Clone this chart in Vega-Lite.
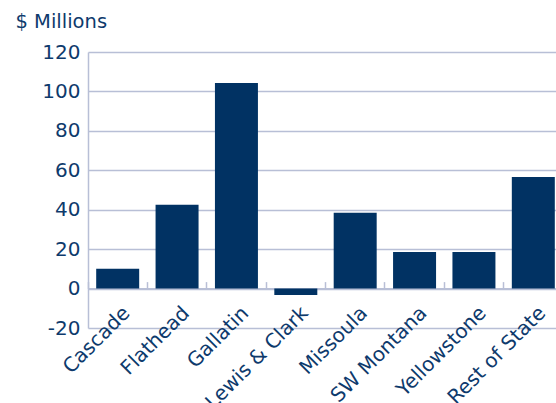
{
  "$schema": "https://vega.github.io/schema/vega-lite/v6.json",
  "autosize": "none",
  "width": 475,
  "height": 276,
  "padding": {"left": 88, "top": 52, "right": 0, "bottom": 75},
  "background": "white",
  "config": {
    "view": {"stroke": null},
    "font": "DejaVu Sans"
  },
  "data": {
    "values": [
      {"region": "Cascade", "value": 10},
      {"region": "Flathead", "value": 42.5},
      {"region": "Gallatin", "value": 104.3},
      {"region": "Lewis & Clark", "value": -3.2},
      {"region": "Missoula", "value": 38.4},
      {"region": "SW Montana", "value": 18.6},
      {"region": "Yellowstone", "value": 18.6},
      {"region": "Rest of State", "value": 56.6}
    ]
  },
  "mark": {"type": "bar", "color": "#013263", "width": {"band": 0.724}},
  "encoding": {
    "x": {
      "field": "region",
      "type": "nominal",
      "sort": null,
      "scale": {"paddingInner": 0, "paddingOuter": 0},
      "axis": {
        "title": null,
        "offset": -39.4,
        "bandPosition": 0,
        "domainColor": "#b8bfd6",
        "domainWidth": 2,
        "tickColor": "#b8bfd6",
        "tickWidth": 1.5,
        "tickSize": -7,
        "labelAngle": -45,
        "labelAlign": "right",
        "labelBaseline": "top",
        "labelOffset": 2,
        "labelPadding": 21,
        "labelFontSize": 20,
        "labelColor": "#0e3a6c",
        "labelOverlap": false,
        "labelBound": false
      }
    },
    "y": {
      "field": "value",
      "type": "quantitative",
      "scale": {"domain": [-20, 120], "nice": false, "zero": false},
      "axis": {
        "values": [-20, 0, 20, 40, 60, 80, 100, 120],
        "labelExpr": "'' + datum.value",
        "title": "$ Millions",
        "titleAngle": 0,
        "titleAlign": "left",
        "titleBaseline": "alphabetic",
        "titleX": -73,
        "titleY": -25,
        "titleFontSize": 19.5,
        "titleFontWeight": "normal",
        "titleColor": "#0e3a6c",
        "domainColor": "#b8bfd6",
        "domainWidth": 1.5,
        "ticks": false,
        "grid": true,
        "gridColor": "#b8bfd6",
        "gridWidth": 1.5,
        "labelPadding": 8,
        "labelFontSize": 20,
        "labelColor": "#0e3a6c"
      }
    }
  }
}
